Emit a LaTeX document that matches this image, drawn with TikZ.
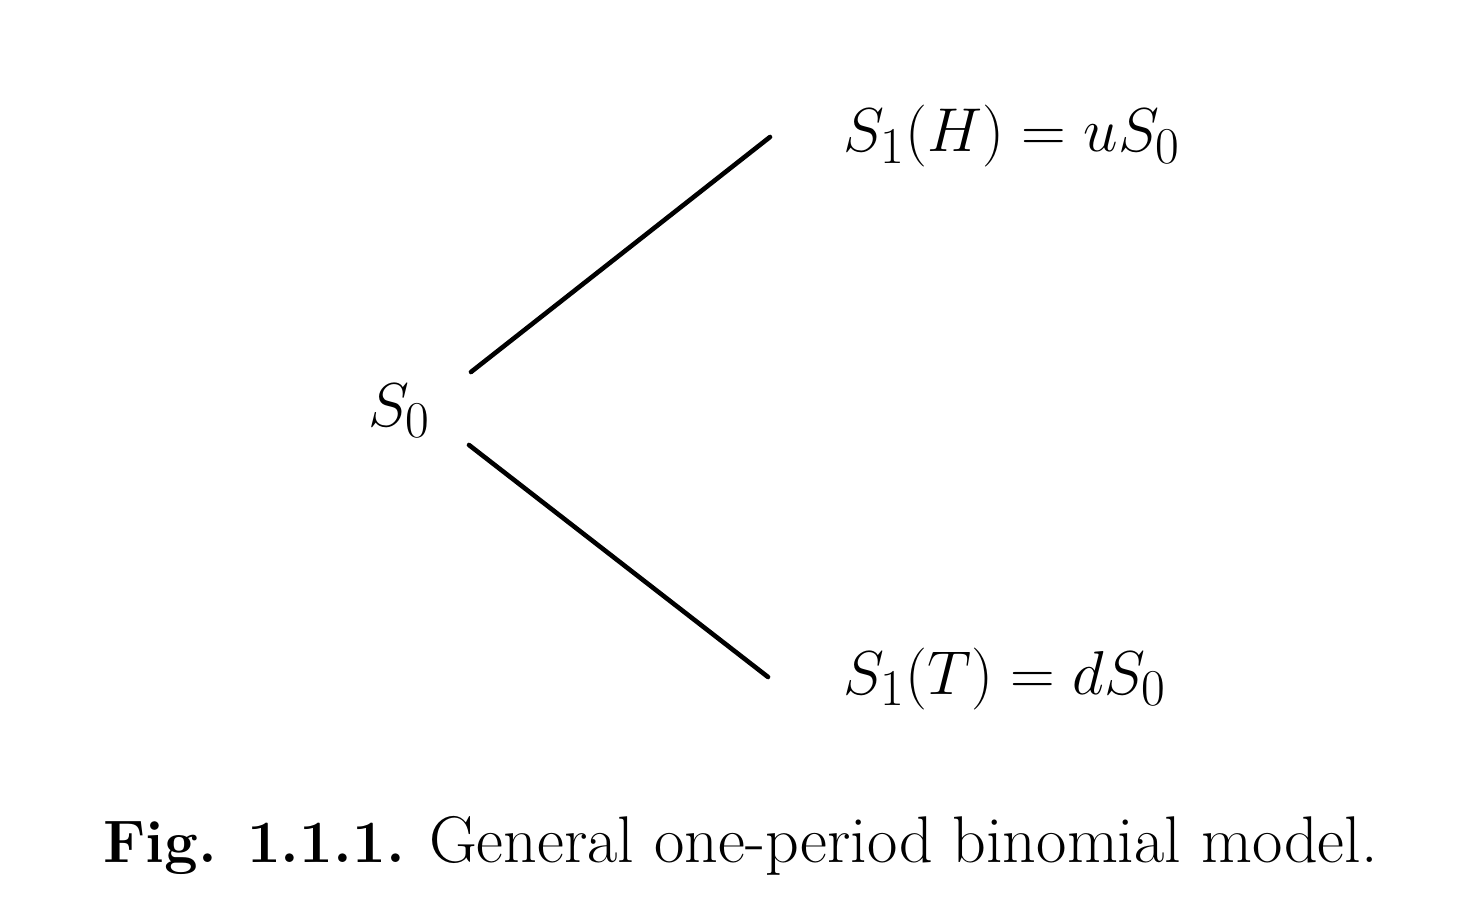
\documentclass[tikz,border=0pt]{standalone}
\usepackage{tikz}

\begin{document}
\begin{tikzpicture}[x=0.5pt,y=-0.5pt,
        branch/.style={line width=2.3pt,line cap=round},
        price/.style={anchor=base west,inner sep=0pt,scale=1.245,transform shape,
            font=\fontsize{24.88}{30}\selectfont}]

        \useasboundingbox (0,0) rectangle (1458,920);

        % Defining the prices
        \node[price] (s0) at (368,426) {$S_0$};
        \node[price] (up) at (843,152) {$S_1(H)=uS_0$};
        \node[price] (down) at (843,694) {$S_1(T)=dS_0$};

        % Ends of the branches
        \coordinate (s0up) at (471,372);
        \coordinate (upend) at (770,137);
        \coordinate (s0down) at (469,445);
        \coordinate (downend) at (768,677);

        % Drawing the branches
        \draw[branch] (s0up) -- (upend);
        \draw[branch] (s0down) -- (downend);

        % Caption
        \node[anchor=base west,inner sep=0pt,font=\fontsize{30}{36}\selectfont] (caption) at (103,862)
            {\textbf{Fig. 1.1.1.} {\fontsize{33}{40}\selectfont General one-period binomial model.}};

    \end{tikzpicture}
\end{document}
